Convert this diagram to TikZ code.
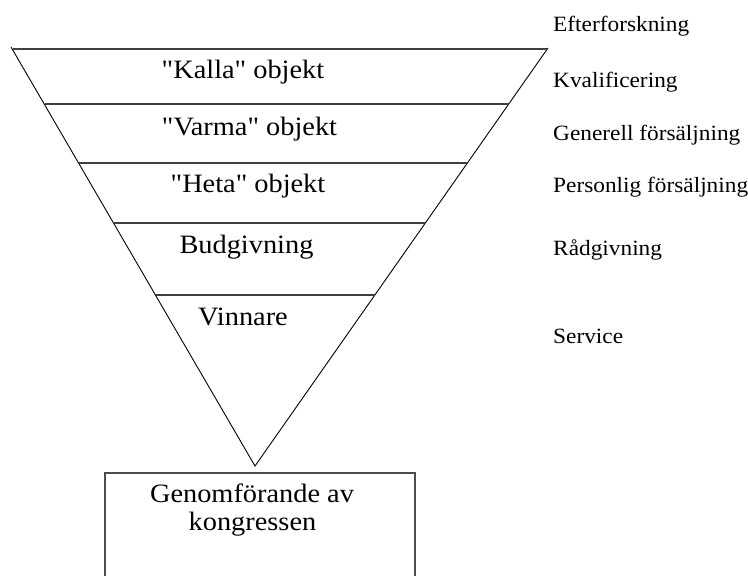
\documentclass[tikz,border=0pt]{standalone}
\usepackage{fontspec}
\newfontfamily\diagserif{Liberation Serif}[FakeStretch=1.07]
\begin{document}
\begin{tikzpicture}[x=1pt,y=-1pt,
  side/.style={draw=black,line width=0.9pt},
  band/.style={draw=black!75,line width=1.5pt},
  boxstyle/.style={draw=black!70,line width=2pt,minimum width=310pt,minimum height=160pt,inner sep=0pt},
  stage/.style={anchor=base,font=\diagserif\fontsize{26.5}{30}\selectfont,inner sep=0pt},
  activity/.style={anchor=base west,font=\diagserif\fontsize{21.8}{26}\selectfont,inner sep=0pt}]
\useasboundingbox (0,0) rectangle (748,576);
\clip (0,0) rectangle (748,576);
\fill[white] (0,0) rectangle (748,576);
% funnel corners
\coordinate (TL) at (11,47);
\coordinate (TR) at (548,48);
\coordinate (apex) at (255,466);
% band end points
\coordinate (l1) at (13,49);    \coordinate (r1) at (547,49);
\coordinate (l2) at (44.5,104); \coordinate (r2) at (508.7,104);
\coordinate (l3) at (78.8,163); \coordinate (r3) at (467.4,163);
\coordinate (l4) at (113.7,223);\coordinate (r4) at (425.3,223);
\coordinate (l5) at (155.6,295);\coordinate (r5) at (374.8,295);
\draw[side] (TL) -- (apex) -- (TR);
\draw[band] (l1) -- (r1);
\draw[band] (l2) -- (r2);
\draw[band] (l3) -- (r3);
\draw[band] (l4) -- (r4);
\draw[band] (l5) -- (r5);
% stage labels
\node[stage] (kalla) at (243,78) {"Kalla" objekt};
\node[stage] (varma) at (249.5,135) {"Varma" objekt};
\node[stage] (heta) at (248,192) {"Heta" objekt};
\node[stage] (bud) at (246.5,253) {Budgivning};
\node[stage] (vinn) at (243,325) {Vinnare};
% box
\node[boxstyle,anchor=north] (box) at (260,472) {};
\node[stage] (gen1) at (252,502) {Genomförande av};
\node[stage] (gen2) at (252.5,530) {kongressen};
% activities
\node[activity] (a1) at (553,31) {Efterforskning};
\node[activity] (a2) at (553,87) {Kvalificering};
\node[activity] (a3) at (553,140) {Generell försäljning};
\node[activity] (a4) at (553,192) {Personlig försäljning};
\node[activity] (a5) at (553,255) {Rådgivning};
\node[activity] (a6) at (553,343) {Service};
\end{tikzpicture}
\end{document}
